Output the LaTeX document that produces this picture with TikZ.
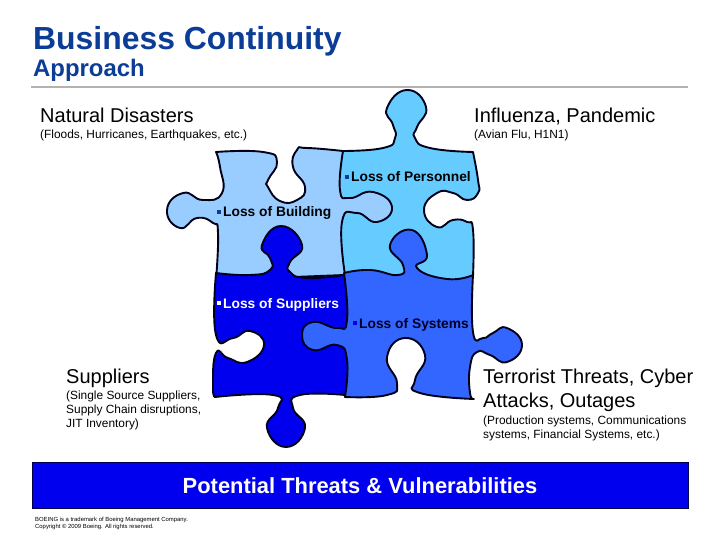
\documentclass[tikz,border=0pt]{standalone}
\usepackage{fontspec}
\setmainfont{Liberation Sans}
\definecolor{titleblue}{HTML}{0B3C96}
\definecolor{skypiece}{HTML}{66CCFF}
\definecolor{palepiece}{HTML}{99CCFF}
\definecolor{deeppiece}{HTML}{0000EE}
\definecolor{midpiece}{HTML}{3366FF}
\definecolor{rulegray}{HTML}{B2B2B2}
\newcommand{\sqbul}[1]{\textcolor{#1}{\rule[3pt]{4pt}{4pt}}\kern2pt}
\tikzset{
    piece/.style={draw=black!90!blue, line width=1.9pt, line join=round},
    heading/.style={anchor=base west, inner sep=0pt, font=\fontsize{20}{22}\selectfont},
    threat/.style={anchor=base west, inner sep=0pt, font=\fontsize{11.9}{14}\selectfont, align=left},
    tag/.style={anchor=base west, inner sep=0pt, font=\fontsize{13.8}{15}\selectfont\bfseries}
}
\begin{document}
\begin{tikzpicture}[x=1pt,y=-1pt]
    \useasboundingbox (0,0) rectangle (720,540);
    % puzzle pieces
    \path[piece, fill=skypiece] plot[smooth, tension=.9] coordinates {(340,151) (383,148) (395,138) (393,125) (387,108) (407,90) (426,107) (417,127) (415,138) (430,148) (473,152)}
        -- plot[smooth, tension=.9] coordinates {(473,152) (478,180) (478,193) (467,200) (453,193) (437,193) (424,210) (437,227) (453,220) (467,222) (473,230) (473,276)}
        -- (466,285) -- (336,285) -- (336,151) -- cycle;
    \path[piece, fill=palepiece] plot[smooth, tension=.9] coordinates {(216,152) (263,152) (277,162) (268,180) (268,187) (280,201) (297,200) (305,187) (293,167) (297,150) (307,148) (343,151)}
        -- plot[smooth, tension=.9] coordinates {(343,151) (340,190) (350,198) (373,192) (392,207) (377,222) (357,213) (342,222) (345,275)}
        -- (216,280)
        -- plot[smooth, tension=.9] coordinates {(216,280) (218,233) (213,223) (197,218) (180,228) (167,210) (183,193) (203,200) (222,193) (220,167) (216,152)} -- cycle;
    \path[piece, fill=deeppiece] plot[smooth, tension=.9] coordinates {(216,273) (250,275) (270,270) (270,258) (262,245) (281,226) (302,245) (290,262) (290,272) (307,278) (344,275)}
        -- (349,275) -- (349,395)
        -- plot[smooth, tension=.9] coordinates {(345,395) (300,395) (293,408) (305,428) (286,447) (267,428) (278,408) (273,395) (215,397)}
        -- plot[smooth, tension=.9] coordinates {(215,397) (213,387) (216,353) (228,358) (247,362) (264,345) (250,331) (233,338) (216,335) (216,273)} -- cycle;
    \path[piece, fill=midpiece] plot[smooth, tension=.9] coordinates {(344,273) (370,270) (398,275) (403,265) (390,245) (412,230) (427,255) (417,268) (447,279) (473,275)}
        -- plot[smooth, tension=.9] coordinates {(473,275) (473,332) (483,338) (493,333) (507,328) (522,345) (507,362) (490,355) (477,352) (470,367) (470,393) (474,399)}
        -- plot[smooth, tension=.9] coordinates {(474,399) (420,393) (415,380) (425,355) (405,338) (387,357) (397,383) (387,395) (345,397)}
        -- plot[smooth, tension=.9] coordinates {(345,397) (347,360) (337,345) (313,350) (302,335) (313,322) (337,328) (347,320) (344,273)} -- cycle;
    % title
    \node[anchor=base west, inner sep=0pt, text=titleblue, font=\fontsize{31.9}{33}\selectfont\bfseries] (title) at (33,49.5) {Business Continuity};
    \node[anchor=base west, inner sep=0pt, text=titleblue, font=\fontsize{23.9}{25}\selectfont\bfseries] (subtitle) at (33,76.5) {Approach};
    \draw[rulegray, line width=2pt] (31,87) -- (688,87);
    % threat headings
    \node[heading] (natural) at (40,123) {Natural Disasters};
    \node[threat] (naturalsub) at (40,139) {(Floods, Hurricanes, Earthquakes, etc.)};
    \node[heading] (flu) at (474,123) {Influenza, Pandemic};
    \node[threat] (flusub) at (474,139) {(Avian Flu, H1N1)};
    \node[heading] (supply) at (66,383) {Suppliers};
    \node[threat, anchor=north west] (supplysub) at (66,391) {(Single Source Suppliers,\\Supply Chain disruptions,\\JIT Inventory)};
    \node[heading, align=left, anchor=north west, font=\fontsize{20}{24}\selectfont] (cyber) at (483,369) {Terrorist Threats, Cyber\\Attacks, Outages};
    \node[threat, anchor=north west] (cybersub) at (483,416) {(Production systems, Communications\\systems, Financial Systems, etc.)};
    % piece labels
    \node[tag] (personnel) at (345,182) {\sqbul{titleblue}Loss of Personnel};
    \node[tag] (building) at (217,217) {\sqbul{titleblue}Loss of Building};
    \node[tag, text=white] (suppliers) at (217,308) {\sqbul{white}Loss of Suppliers};
    \node[tag, text=black!85!blue] (systems) at (353,328) {\sqbul{deeppiece}Loss of Systems};
    % banner
    \node[draw=black!70!blue, fill=deeppiece, minimum width=656pt, minimum height=46pt, inner sep=0pt, anchor=north west] (banner) at (32,462) {};
    \node[text=white, font=\fontsize{21.9}{24}\selectfont\bfseries, inner sep=0pt] (bannertext) at (360,486) {Potential Threats \& Vulnerabilities};
    % footer
    \node[anchor=north west, inner sep=0pt, align=left, font=\fontsize{5.9}{7.4}\selectfont] (footer) at (35,517) {BOEING is a trademark of Boeing Management Company.\\Copyright © 2009 Boeing. All rights reserved.};
\end{tikzpicture}
\end{document}
